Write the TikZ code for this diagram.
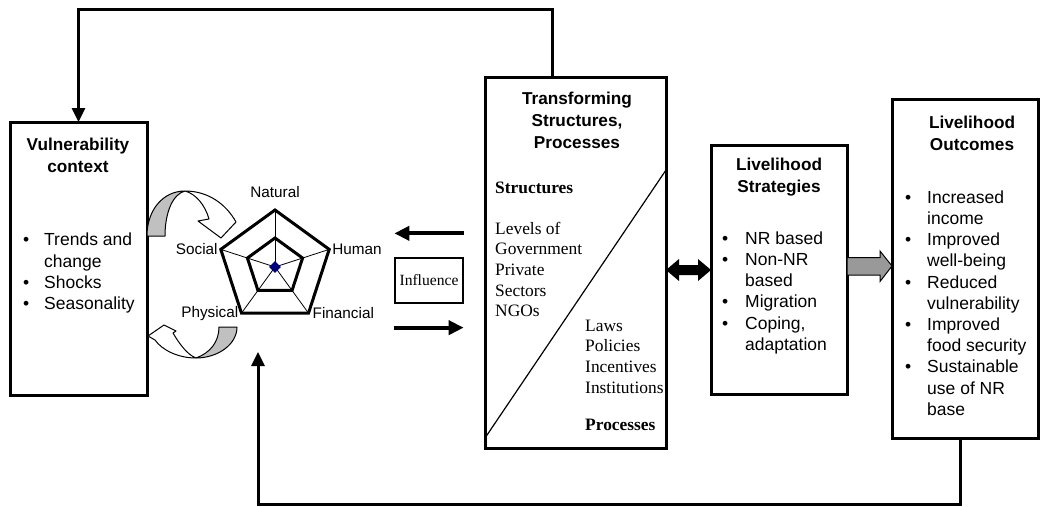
\documentclass[tikz,border=0pt]{standalone}
\usepackage{fontspec}
\setmainfont{Liberation Serif}
\setsansfont{Liberation Sans}
\usetikzlibrary{arrows.meta,positioning,calc,shapes.geometric}
\definecolor{navy}{HTML}{000080}
\definecolor{ribbon}{HTML}{C0C0C0}
\definecolor{flowgray}{HTML}{999999}
\newcommand{\sfbody}{\sffamily\fontsize{17.5}{21.2}\selectfont}
\newcommand{\sfhead}{\sffamily\bfseries\fontsize{17.2}{22}\selectfont}
\newcommand{\rmbody}{\rmfamily\fontsize{17.4}{20.7}\selectfont}
\newcommand{\blist}[2]{\begin{tabular}{@{}p{#1}@{}l@{}}#2\end{tabular}}

\begin{document}
\begin{tikzpicture}[x=1pt,y=-1pt,
  every node/.style={inner sep=0pt},
  box/.style={rectangle,draw,line width=3pt,outer sep=0pt},
  head/.style={font=\sfhead,align=center},
  body/.style={font=\sfbody,anchor=west},
  serif/.style={font=\rmbody,align=left,anchor=west},
  plabel/.style={font=\sffamily\fontsize{15.3}{18}\selectfont},
  ring/.style={line width=3pt},
  spoke/.style={line width=0.8pt},
  curv/.style={line width=1pt,line join=round},
  infl/.style={line width=4pt,-{Triangle[length=15pt,width=14pt]}},
  fb/.style={line width=3pt,-{Triangle[length=14pt,width=13pt]}}
]
\useasboundingbox (0,0) rectangle (1041,506);

% main boxes
\node[box,minimum width=137pt,minimum height=273pt] (vul) at (78.5,258.5) {};
\node[box,minimum width=181pt,minimum height=371pt] (trans) at (575.5,262.5) {};
\node[box,minimum width=136pt,minimum height=249pt] (strat) at (779,269.5) {};
\node[box,minimum width=146pt,minimum height=339pt] (outc) at (965,268.5) {};
\node[draw,line width=1.3pt,minimum width=68pt,minimum height=45pt,
  font=\rmfamily\fontsize{15.6}{19}\selectfont] (infl) at (429,280.5) {Influence};

% vulnerability context
\node[head] (vultitle) at (78,155) {Vulnerability\\context};
\node[body] (vullist) at (23,273.5) {\blist{21pt}{\textbullet & Trends and\\ & change\\
  \textbullet & Shocks\\ \textbullet & Seasonality}};

% asset pentagon
\def\cx{275}\def\cy{267}
\foreach \i/\a in {1/-90,2/-18,3/54,4/126,5/198}{
  \coordinate (po\i) at ($(\cx,\cy)+(\a:57)$);
  \coordinate (pi\i) at ($(\cx,\cy)+(\a:29)$);
}
\coordinate (pc) at (\cx,\cy);
\foreach \i in {1,...,5}
  \draw[spoke] (pc) -- (po\i);
\draw[ring] (po1) -- (po2) -- (po3) -- (po4) -- (po5) -- cycle;
\draw[ring,fill=white] (pi1) -- (pi2) -- (pi3) -- (pi4) -- (pi5) -- cycle;
\foreach \i in {1,...,5}
  \draw[spoke] (pc) -- (pi\i);
\node[diamond,fill=navy,minimum size=12pt] (core) at (pc) {};
\node[plabel,above=12pt of po1] (natural) {Natural};
\node[plabel,right=3pt of po2] (human) {Human};
\node[plabel,right=4pt of po3] (financial) {Financial};
\node[plabel,left=3pt of po4] (physical) {Physical};
\node[plabel,left=3pt of po5] (social) {Social};

% curved arrows context <-> assets
\draw[curv,fill=ribbon] (147,236) .. controls (147,210) and (163,191) .. (185,191)
  .. controls (173,194) and (165,212) .. (165,236) -- cycle;
\draw[curv,fill=white] (185,191) .. controls (208,191) and (226,204) .. (236,222)
  -- (221,238) -- (198,221) -- (209,219) .. controls (205,205) and (196,194) .. (185,191) -- cycle;
\draw[curv,fill=ribbon] (237,327) .. controls (237,345) and (217,358) .. (196,358)
  .. controls (210,353) and (219,342) .. (219,327) -- cycle;
\draw[curv,fill=white] (196,358) .. controls (178,358) and (162,350) .. (155,340)
  -- (148,336) -- (164,325) -- (176,331) -- (173,333) .. controls (180,345) and (188,355) .. (196,358) -- cycle;

% influence arrows
\draw[infl] ([yshift=24pt]infl.north east) -- ([yshift=24pt]infl.north west);
\draw[infl] ([yshift=-24pt]infl.south west) -- ([yshift=-24pt]infl.south east);

% transforming structures
\node[head] (transtitle) at (577,120.5) {Transforming\\Structures,\\Processes};
\draw[line width=1.2pt] ([yshift=10pt]trans.south west) -- ([yshift=-93pt]trans.north east);
\node[serif,font=\rmfamily\bfseries\fontsize{17.4}{20.7}\selectfont] (structs) at (495,188) {Structures};
\node[serif] (structlist) at (495,269.5) {Levels of\\Government\\Private\\Sectors\\NGOs};
\node[serif] (proclist) at (585,356.5) {Laws\\Policies\\Incentives\\Institutions};
\node[serif,font=\rmfamily\bfseries\fontsize{17.4}{20.7}\selectfont] (procs) at (585,425) {Processes};

% strategies and outcomes
\node[head] (strattitle) at (779,177.5) {Livelihood\\Strategies};
\node[body] (stratlist) at (722,293) {\blist{23pt}{\textbullet & NR based\\ \textbullet & Non-NR\\
  & based\\ \textbullet & Migration\\ \textbullet & Coping,\\ & adaptation}};
\node[head] (outtitle) at (972,133) {Livelihood\\Outcomes};
\node[body] (outlist) at (905,305) {\blist{22pt}{\textbullet & Increased\\ & income\\
  \textbullet & Improved\\ & well-being\\ \textbullet & Reduced\\ & vulnerability\\
  \textbullet & Improved\\ & food security\\ \textbullet & Sustainable\\ & use of NR\\ & base}};

% block arrows
\coordinate (dbly) at (0,270);
\coordinate (flowy) at (0,266);
\fill (trans.east |- dbly) -- ++(13,-11) -- ++(0,6) -- ++(19,0) -- ++(0,-6) -- (strat.west |- dbly)
  -- ++(-13,11) -- ++(0,-6) -- ++(-19,0) -- ++(0,6) -- cycle;
\draw[line width=1pt,fill=flowgray] (strat.east |- flowy) -- ++(0,-8.5) -- ++(33,0) -- ++(0,-6.5)
  -- (outc.west |- flowy) -- ++(-12,15.5) -- ++(0,-6.5) -- ++(-33,0) -- cycle;

% feedback loops
\coordinate (capin) at (258,352);
\draw[fb] ([xshift=-23.5pt]trans.north) -- ++(0,-68) -| (vul.north);
\draw[fb] ([xshift=-5pt]outc.south) -- ++(0,66) -| (capin);
\end{tikzpicture}
\end{document}
